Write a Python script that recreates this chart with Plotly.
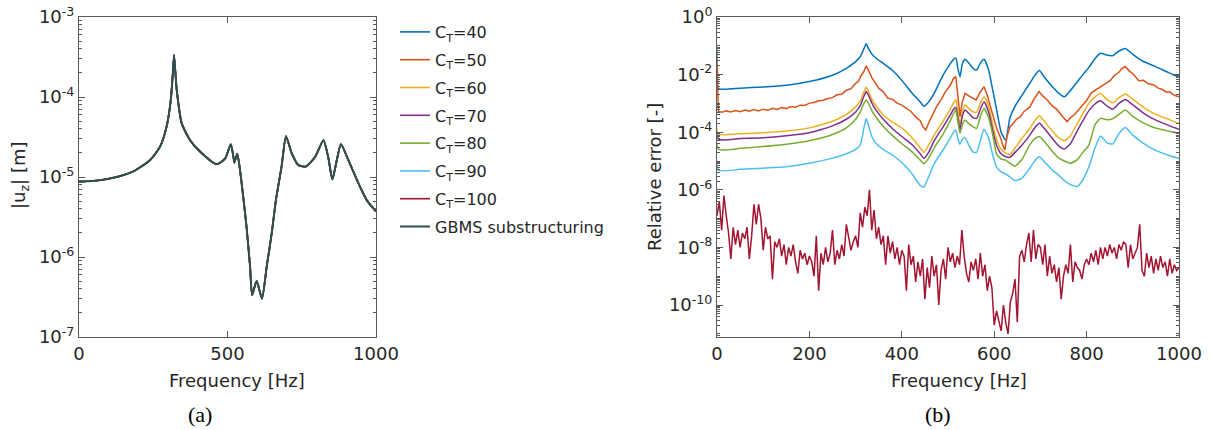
import numpy as np
import plotly.graph_objects as go

# ---------------- data ----------------
# (a) FRF |u_z| (log10 values)
frf_freq = [0, 70, 127, 183, 239, 273, 295, 309, 315, 320, 325, 329, 346, 374, 407, 463, 492,
            511, 520, 523, 533, 542, 553, 564, 576, 583, 598, 616, 632, 649, 663, 682, 697,
            716, 738, 763, 795, 823, 839, 853, 868, 882, 907, 941, 969, 1000]
frf_log = [-5.06, -5.04, -5.00, -4.93, -4.79, -4.62, -4.37, -4.04, -3.75, -3.475, -3.72, -3.91,
           -4.33, -4.54, -4.68, -4.84, -4.77, -4.59, -4.75, -4.82, -4.71, -4.91, -5.25, -5.62,
           -6.12, -6.475, -6.30, -6.52, -6.12, -5.70, -5.29, -4.87, -4.49, -4.70, -4.85, -4.87,
           -4.75, -4.54, -4.75, -5.03, -4.79, -4.59, -4.79, -5.08, -5.29, -5.43]

# (b) relative errors, smooth series on a shared frequency grid (log10 values)
grid_freq = [0, 3, 50, 100, 150, 200, 250, 280, 300, 310, 318, 323, 328, 335, 345, 360, 380, 400,
             420, 440, 448, 458, 470, 490, 505, 512, 517, 521, 526, 531, 537, 545, 555, 562, 570,
             578, 588, 597, 605, 615, 625, 634, 645, 660, 677, 690, 698, 710, 725, 740, 752, 765,
             780, 792, 805, 818, 830, 845, 857, 870, 884, 900, 920, 940, 960, 980, 1000]
ct40_log = [-1.2, -2.48, -2.47, -2.43, -2.37, -2.24, -2.02, -1.78, -1.55, -1.38, -1.10, -0.93,
            -1.10, -1.28, -1.44, -1.61, -1.86, -2.2, -2.6, -2.95, -3.1, -2.95, -2.65, -2.0,
            -1.62, -1.47, -1.42, -1.75, -2.08, -1.62, -1.47, -1.6, -1.8, -1.84, -1.6, -1.47,
            -1.85, -2.55, -3.2, -4.0, -4.27, -3.5, -3.1, -2.72, -2.3, -1.98, -1.86, -2.12, -2.4,
            -2.65, -2.77, -2.55, -2.25, -2.0, -1.75, -1.45, -1.26, -1.33, -1.34, -1.18, -1.09,
            -1.3, -1.52, -1.66, -1.8, -1.95, -2.09]
ct60_log = [-1.2, -4.06, -4.05, -4.02, -3.96, -3.85, -3.62, -3.38, -3.12, -2.92, -2.6, -2.44,
            -2.58, -2.85, -3.1, -3.4, -3.65, -3.85, -4.15, -4.55, -4.7, -4.45, -4.1, -3.6,
            -3.2, -2.98, -2.87, -3.25, -3.75, -3.3, -3.05, -3.18, -3.3, -3.3, -3.0, -2.77,
            -3.1, -3.75, -4.25, -4.6, -4.72, -4.78, -4.55, -4.21, -3.87, -3.55, -3.44, -3.65,
            -3.95, -4.2, -4.3, -4.12, -3.7, -3.35, -3.0, -2.78, -2.66, -2.88, -2.98, -2.8, -2.67,
            -2.85, -3.1, -3.3, -3.45, -3.57, -3.70]
ct70_log = [-1.2, -4.24, -4.22, -4.19, -4.12, -4.02, -3.78, -3.55, -3.3, -3.08, -2.75, -2.59,
            -2.72, -2.98, -3.25, -3.55, -3.88, -4.15, -4.4, -4.75, -4.91, -4.7, -4.3, -3.8,
            -3.4, -3.2, -3.14, -3.45, -3.92, -3.45, -3.23, -3.35, -3.5, -3.52, -3.2, -2.94,
            -3.3, -3.95, -4.45, -4.75, -4.85, -4.87, -4.7, -4.45, -4.1, -3.8, -3.69, -3.9, -4.2,
            -4.48, -4.58, -4.4, -3.95, -3.6, -3.25, -3.02, -2.91, -3.1, -3.2, -3.0, -2.86,
            -3.05, -3.3, -3.5, -3.65, -3.78, -3.90]
ct80_log = [-1.2, -4.59, -4.56, -4.50, -4.42, -4.30, -4.08, -3.85, -3.55, -3.3, -3.0, -2.88,
            -3.0, -3.25, -3.5, -3.8, -4.12, -4.4, -4.65, -4.97, -5.10, -4.9, -4.55, -4.05,
            -3.6, -3.35, -3.23, -3.6, -4.04, -3.75, -3.58, -3.7, -3.82, -3.87, -3.45, -3.17,
            -3.5, -4.1, -4.75, -4.93, -4.97, -5.08, -5.18, -4.95, -4.44, -4.2, -4.16, -4.35,
            -4.65, -4.9, -5.0, -5.08, -4.95, -4.7, -4.45, -3.75, -3.52, -3.57, -3.53, -3.38,
            -3.23, -3.45, -3.65, -3.8, -3.9, -3.97, -4.04]
ct90_log = [-1.2, -5.31, -5.29, -5.25, -5.2, -5.08, -4.9, -4.75, -4.6, -4.45, -3.85, -3.52,
            -3.75, -4.15, -4.4, -4.6, -4.8, -5.05, -5.4, -5.85, -5.9, -5.55, -5.1, -4.6,
            -4.2, -4.0, -3.92, -4.2, -4.42, -4.25, -4.18, -4.45, -4.7, -4.7, -4.3, -3.9,
            -4.2, -4.8, -5.2, -5.38, -5.45, -5.55, -5.68, -5.6, -5.25, -4.95, -4.85, -5.05,
            -5.3, -5.5, -5.68, -5.82, -5.88, -5.65, -5.2, -4.55, -4.13, -4.38, -4.4, -4.05,
            -3.84, -4.1, -4.35, -4.55, -4.7, -4.82, -4.91]

# (b) C_T=50 (slightly noisy)
ct50_freq = [0, 3, 10, 20, 30, 40, 50, 60, 70, 80, 90, 100, 110, 120, 130, 140, 150, 160, 170,
             180, 190, 200, 210, 220, 230, 240, 250, 260, 270, 280, 290, 300, 306, 312, 317,
             320, 323, 326, 330, 336, 342, 350, 360, 370, 380, 390, 400, 410, 420, 430, 440,
             446, 452, 458, 465, 475, 485, 495, 505, 512, 517, 521, 526, 531, 537, 545, 553,
             561, 569, 578, 585, 591, 598, 606, 613, 618, 623, 628, 634, 640, 648, 656, 665,
             677, 687, 697, 705, 715, 725, 735, 745, 752, 758, 765, 775, 790, 800, 810, 820,
             830, 840, 851, 860, 870, 877, 884, 892, 900, 913, 923, 934, 945, 955, 963, 972,
             980, 990, 1000]
ct50_log = [-1.3, -3.28, -3.31, -3.26, -3.30, -3.25, -3.29, -3.23, -3.27, -3.21, -3.26, -3.20,
            -3.24, -3.17, -3.21, -3.14, -3.18, -3.11, -3.13, -3.06, -3.07, -2.99, -2.97, -2.91,
            -2.89, -2.83, -2.80, -2.70, -2.68, -2.54, -2.49, -2.30, -2.24, -2.03, -1.92, -1.78,
            -1.70, -1.79, -1.95, -2.13, -2.27, -2.47, -2.60, -2.82, -2.86, -2.99, -3.06, -3.17,
            -3.28, -3.47, -3.60, -3.82, -3.92, -3.68, -3.44, -3.12, -2.87, -2.58, -2.37, -2.13,
            -2.07, -2.70, -3.46, -2.95, -2.65, -2.74, -2.80, -2.88, -2.63, -2.42, -2.72, -3.11,
            -3.46, -3.90, -4.16, -4.42, -4.62, -4.13, -3.81, -3.72, -3.55, -3.48, -3.27, -3.13,
            -2.83, -2.59, -2.74, -2.88, -3.08, -3.20, -3.42, -3.53, -3.63, -3.50, -3.37, -3.09,
            -2.90, -2.63, -2.52, -2.42, -2.33, -2.21, -2.03, -1.92, -1.78, -1.72, -1.87, -1.96,
            -2.21, -2.20, -2.32, -2.36, -2.47, -2.51, -2.60, -2.60, -2.72, -2.77]

# (b) C_T=100 (noisy, every 5 Hz from 0 to 1000)
ct100_freq_step = 5
ct100_log = [
    -6.9, -6.4, -7.4, -6.2, -6.9, -7.5, -8.4, -7.3, -7.9, -7.4, -8.0, -7.5, -7.7, -7.3, -8.4, -7.6, -6.5, -7.2, -6.5, -7.0,
    -8.1, -7.3, -7.7, -7.6, -9.1, -7.8, -8.0, -7.7, -8.3, -7.9, -8.6, -8.0, -8.3, -7.9, -8.5, -8.9, -8.1, -8.4, -8.2, -8.6,
    -8.3, -8.5, -9.0, -7.6, -9.5, -8.2, -8.6, -8.0, -8.5, -8.2, -7.4, -8.6, -8.1, -8.4, -7.9, -8.3, -7.2, -7.7, -8.1, -7.8,
    -7.6, -8.0, -6.8, -7.3, -6.6, -6.9, -6.0, -7.4, -6.7, -7.7, -7.3, -7.9, -7.6, -8.6, -7.6, -8.2, -7.8, -8.4, -8.0, -8.6,
    -8.1, -8.3, -9.5, -7.9, -8.6, -8.3, -9.2, -8.5, -9.0, -8.4, -9.8, -8.7, -9.4, -8.3, -9.0, -8.6, -10.0, -8.8, -8.4, -9.1,
    -8.0, -8.5, -8.2, -8.7, -8.3, -8.6, -7.4, -8.3, -8.9, -9.2, -8.5, -8.8, -8.4, -9.1, -8.2, -9.0, -8.6, -9.5, -9.0, -9.4,
    -10.7, -10.2, -10.5, -10.9, -10.0, -10.6, -11.0, -9.9, -9.6, -9.1, -10.6, -8.3, -8.1, -8.5, -7.9, -7.5, -8.5, -7.4, -8.4, -7.9,
    -8.0, -8.6, -7.9, -9.0, -8.3, -8.9, -8.6, -9.2, -8.7, -9.8, -9.0, -8.6, -8.9, -7.9, -9.2, -8.5, -8.7, -8.8, -9.1, -8.6,
    -8.4, -8.6, -8.2, -8.5, -8.1, -8.6, -8.0, -8.4, -8.0, -8.3, -7.9, -8.2, -8.0, -8.4, -7.9, -8.1, -7.8, -7.9, -8.7, -7.9,
    -8.4, -8.2, -8.0, -7.2, -8.8, -9.0, -8.2, -8.7, -8.3, -8.9, -8.4, -8.8, -8.3, -8.7, -8.5, -9.0, -8.4, -8.9, -8.6, -8.8,
    -8.7]

legend_names = ["C<sub>T</sub>=40", "C<sub>T</sub>=50", "C<sub>T</sub>=60", "C<sub>T</sub>=70",
                "C<sub>T</sub>=80", "C<sub>T</sub>=90", "C<sub>T</sub>=100", "GBMS substructuring"]
colors = ["#0072BD", "#D95319", "#EDB120", "#7E2F8E", "#77AC30", "#4DBEEE", "#A2142F", "#2F4F4F"]

left_xticks = [0, 500, 1000]
right_xticks = [0, 200, 400, 600, 800, 1000]
left_yexp = [-7, -6, -5, -4, -3]
right_yexp = [-10, -8, -6, -4, -2, 0]

# ---------------- figure ----------------
def p10(a):
    return 10.0 ** np.asarray(a, dtype=float)

fig = go.Figure()

# (a) all C_T curves coincide with the reference FRF
for i in range(8):
    fig.add_trace(go.Scatter(x=frf_freq, y=p10(frf_log), mode="lines", name=legend_names[i],
                             legendgroup="g%d" % i,
                             line=dict(color=colors[i], width=2 if i == 7 else 1.6,
                                       shape="spline", smoothing=0.6),
                             xaxis="x", yaxis="y"))

# (b)
ct100_freq = np.arange(len(ct100_log)) * ct100_freq_step
series_b = [(grid_freq, ct40_log), (ct50_freq, ct50_log), (grid_freq, ct60_log),
            (grid_freq, ct70_log), (grid_freq, ct80_log), (grid_freq, ct90_log),
            (ct100_freq, ct100_log)]
for i, (fx, fy) in enumerate(series_b):
    smooth = i not in (1, 6)
    fig.add_trace(go.Scatter(x=fx, y=p10(fy), mode="lines", showlegend=False,
                             line=dict(color=colors[i], width=1.5,
                                       shape="spline" if smooth else "linear",
                                       **({"smoothing": 0.5} if smooth else {})),
                             xaxis="x2", yaxis="y2"))

axcol = "#5a5a5a"
tfont = dict(family="DejaVu Sans", size=18, color="#262626")
base = dict(showline=True, linecolor=axcol, linewidth=1, mirror="ticks", ticks="inside",
            tickcolor=axcol, ticklen=6, tickfont=tfont, showgrid=False, zeroline=False,
            automargin=False)
logminor = dict(ticks="inside", ticklen=3, tickcolor=axcol, dtick="D1", showgrid=False)

L0, L1 = 79 / 1212, 376 / 1212
R0, R1 = 717 / 1212, 1179 / 1212
B, T = 1 - 337 / 430, 1 - 17 / 430

fig.update_layout(
    template="none",
    width=1212, height=430, margin=dict(l=0, r=0, t=0, b=0, pad=0, autoexpand=False),
    paper_bgcolor="white", plot_bgcolor="white",
    xaxis=dict(base, domain=[L0, L1], range=[0, 1000], tickvals=left_xticks,
               ticktext=[str(v) for v in left_xticks], anchor="y"),
    yaxis=dict(base, domain=[B, T], type="log", range=[-7, -3],
               tickvals=[10.0 ** e for e in left_yexp],
               ticktext=["10<sup>%d</sup>" % e for e in left_yexp], minor=logminor, anchor="x"),
    xaxis2=dict(base, domain=[R0, R1], range=[0, 1000], tickvals=right_xticks,
                ticktext=[str(v) for v in right_xticks], anchor="y2"),
    yaxis2=dict(base, domain=[B, T], type="log", range=[-11.11, 0],
                tickvals=[10.0 ** e for e in right_yexp],
                ticktext=["10<sup>%d</sup>" % e for e in right_yexp], minor=logminor, anchor="x2"),
    legend=dict(x=395 / 1212, y=1 - 15 / 430, xanchor="left", yanchor="top",
                bgcolor="rgba(0,0,0,0)", borderwidth=0,
                font=dict(family="DejaVu Sans", size=16, color="#262626"),
                itemwidth=30, tracegroupgap=4),
    showlegend=True,
)

ann_font = dict(family="DejaVu Sans", size=18, color="#262626")
cap_font = dict(family="Liberation Serif", size=22, color="#000000")
fig.add_annotation(text="Frequency [Hz]", x=237 / 1212, y=1 - 380 / 430, xref="paper", yref="paper",
                   showarrow=False, font=ann_font, xanchor="center", yanchor="middle")
fig.add_annotation(text="Frequency [Hz]", x=959 / 1212, y=1 - 380 / 430, xref="paper", yref="paper",
                   showarrow=False, font=ann_font, xanchor="center", yanchor="middle")
fig.add_annotation(text="|u<sub>z</sub>| [m]", x=20 / 1212, y=1 - 175 / 430, xref="paper", yref="paper",
                   showarrow=False, font=ann_font, textangle=-90, xanchor="center", yanchor="middle")
fig.add_annotation(text="Relative error [-]", x=655 / 1212, y=1 - 177 / 430, xref="paper", yref="paper",
                   showarrow=False, font=ann_font, textangle=-90, xanchor="center", yanchor="middle")
fig.add_annotation(text="(a)", x=200 / 1212, y=1 - 414 / 430, xref="paper", yref="paper",
                   showarrow=False, font=cap_font, xanchor="center", yanchor="middle")
fig.add_annotation(text="(b)", x=938 / 1212, y=1 - 414 / 430, xref="paper", yref="paper",
                   showarrow=False, font=cap_font, xanchor="center", yanchor="middle")

fig.write_html("out.html")
